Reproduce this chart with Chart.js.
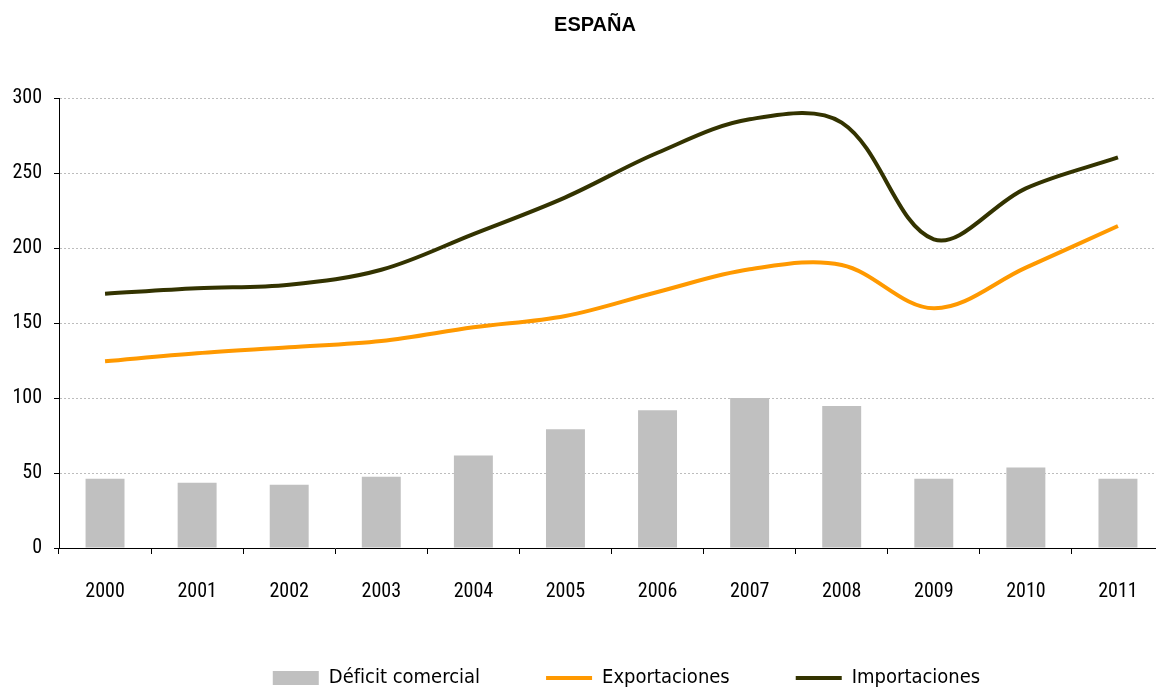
<!DOCTYPE html>
<html lang="es">
<head>
    <meta charset="UTF-8">
    <title>España</title>
    <script src="https://cdn.jsdelivr.net/npm/chart.js"></script>
    <style>
        html, body { margin: 0; padding: 0; overflow: hidden; background: #fff; }
        canvas { display: block; }
    </style>
</head>
<body>
    <canvas id="grafico" width="1253" height="698"></canvas>

    <script>
        // Datos (miles de millones de euros)
        var titulo = 'ESPAÑA';
        var anios = ['2000', '2001', '2002', '2003', '2004', '2005', '2006', '2007', '2008', '2009', '2010', '2011'];
        var deficit = [46.2, 43.5, 42.2, 47.5, 61.7, 79.1, 91.9, 100, 94.6, 46.2, 53.6, 46.2];
        var exportaciones = [124.5, 129.8, 133.8, 138, 147.1, 154.7, 170.7, 185.8, 188.7, 159.8, 186.9, 214.7];
        var importaciones = [169.5, 173.1, 175.5, 185.5, 209.3, 233.8, 263.5, 285.8, 283.6, 205.8, 239.8, 260.4];
        var ticksY = [0, 50, 100, 150, 200, 250, 300];

        var fuenteEjes = '"Roboto Condensed", "DejaVu Sans Condensed", sans-serif';
        var fuenteLeyenda = '"DejaVu Sans Condensed", "DejaVu Sans", sans-serif';

        // Título dibujado a mano para poder centrarlo donde queremos
        var pluginTitulo = {
            id: 'tituloEspana',
            afterDraw: function (chart) {
                var ctx = chart.ctx;
                ctx.save();
                ctx.font = 'bold 20px "Liberation Sans", Arial, sans-serif';
                ctx.fillStyle = '#000';
                ctx.textAlign = 'center';
                ctx.textBaseline = 'middle';
                ctx.fillText(titulo, 595, 25);
                ctx.restore();
            }
        };

        var ctx = document.getElementById('grafico').getContext('2d');
        var grafico = new Chart(ctx, {
            type: 'bar',
            data: {
                labels: anios,
                datasets: [{
                    label: 'Déficit comercial',
                    data: deficit,
                    backgroundColor: '#c0c0c0',
                    borderWidth: 0,
                    pointStyle: 'rect',
                    categoryPercentage: 1,
                    barPercentage: 0.423,
                    yAxisID: 'y'
                }, {
                    type: 'line',
                    label: 'Exportaciones',
                    data: exportaciones,
                    borderColor: '#ff9900',
                    backgroundColor: '#ff9900',
                    borderWidth: 4,
                    pointBorderWidth: 4,
                    pointRadius: 0,
                    pointStyle: 'line',
                    tension: 0.35,
                    fill: false,
                    yAxisID: 'y'
                }, {
                    type: 'line',
                    label: 'Importaciones',
                    data: importaciones,
                    borderColor: '#333300',
                    backgroundColor: '#333300',
                    borderWidth: 4,
                    pointBorderWidth: 4,
                    pointRadius: 0,
                    pointStyle: 'line',
                    tension: 0.35,
                    fill: false,
                    yAxisID: 'y'
                }]
            },
            options: {
                responsive: false,
                animation: false,
                devicePixelRatio: 1,
                layout: { padding: { top: 98, left: 0, right: 0, bottom: 0 } },
                plugins: {
                    title: { display: false },
                    tooltip: { enabled: false },
                    legend: {
                        position: 'bottom',
                        labels: {
                            usePointStyle: true,
                            pointStyleWidth: 46,
                            boxWidth: 46,
                            boxHeight: 14,
                            padding: 66,
                            color: '#000',
                            font: { family: fuenteLeyenda, size: 20 }
                        }
                    }
                },
                scales: {
                    x: {
                        offset: true,
                        grid: {
                            display: true,
                            offset: true,
                            drawOnChartArea: false,
                            tickLength: 6,
                            tickColor: '#000'
                        },
                        border: { display: true, color: '#000', width: 1 },
                        ticks: {
                            color: '#000',
                            padding: 26,
                            maxRotation: 0,
                            font: { family: fuenteEjes, size: 20 }
                        },
                        afterFit: function (escala) { escala.height = 54; }
                    },
                    y: {
                        position: 'left',
                        min: 0,
                        max: 300,
                        afterBuildTicks: function (escala) {
                            escala.ticks = ticksY.map(function (v) { return { value: v }; });
                        },
                        grid: {
                            color: '#bdbdbd',
                            lineWidth: 1,
                            tickLength: 5,
                            tickColor: '#000'
                        },
                        border: { display: true, color: '#000', width: 1, dash: [2, 2] },
                        ticks: {
                            color: '#000',
                            padding: 12,
                            font: { family: fuenteEjes, size: 20 }
                        },
                        afterFit: function (escala) { escala.width = 59; }
                    },
                    // margen derecho: el eje no se ve, solo reserva espacio
                    margen: {
                        type: 'linear',
                        position: 'right',
                        display: true,
                        grid: { display: false, drawTicks: false },
                        border: { display: false },
                        ticks: { display: false },
                        afterFit: function (escala) { escala.width = 89; }
                    }
                }
            },
            plugins: [pluginTitulo]
        });
    </script>
</body>
</html>
